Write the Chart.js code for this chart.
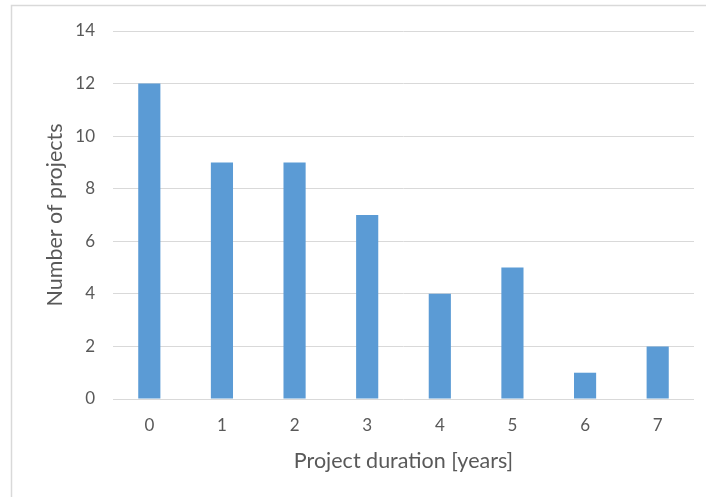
<!DOCTYPE html>
<html>
<head>
<meta charset="utf-8">
<script src="https://cdn.jsdelivr.net/npm/chart.js@4"></script>
<style>
  html, body { margin: 0; padding: 0; background: #fff; }
  #wrap { width: 706px; height: 497px; position: relative; }
</style>
</head>
<body>
<div id="wrap"><canvas id="chart" width="706" height="497"></canvas></div>
<script>
// Number of projects per project duration (years)
const durations = ['0', '1', '2', '3', '4', '5', '6', '7'];
const projectCounts = [12, 9, 9, 7, 4, 5, 1, 2];
const yTicks = [0, 2, 4, 6, 8, 10, 12, 14];

const TEXT = '#595959';
const GRID = '#d9d9d9';
const FONT = 'Lato, "Open Sans", sans-serif';

// light frame along the top and left edges, like the cropped Excel chart
const framePlugin = {
    id: 'frame',
    beforeDraw(chart) {
        const ctx = chart.ctx;
        ctx.save();
        ctx.strokeStyle = GRID;
        ctx.lineWidth = 1.5;
        ctx.beginPath();
        ctx.moveTo(11.5, chart.height);
        ctx.lineTo(11.5, 5.5);
        ctx.lineTo(chart.width, 5.5);
        ctx.stroke();
        ctx.restore();
    },
};

new Chart(document.getElementById('chart'), {
    type: 'bar',
    data: {
        labels: durations,
        datasets: [{
            data: projectCounts,
            backgroundColor: '#5b9bd5',
            borderWidth: 0,
            barPercentage: 0.305,
            categoryPercentage: 1,
        }],
    },
    options: {
        responsive: false,
        animation: false,
        layout: { padding: { top: 31, right: 12, left: 12, bottom: 0 } },
        plugins: { legend: { display: false }, tooltip: { enabled: false } },
        scales: {
            x: {
                grid: { display: false, drawTicks: false },
                border: { display: false },
                ticks: { color: TEXT, font: { family: FONT, size: 17 }, padding: 16 },
                title: {
                    display: true,
                    text: 'Project duration [years]',
                    color: TEXT,
                    font: { family: FONT, size: 21.5 },
                    padding: { top: 4, bottom: 23 },
                },
                afterFit: s => { s.height = 98; },
            },
            y: {
                min: 0,
                max: 14,
                afterBuildTicks: s => { s.ticks = yTicks.map(v => ({ value: v })); },
                grid: { color: GRID, lineWidth: 1, drawTicks: false },
                border: { display: false },
                ticks: { color: TEXT, font: { family: FONT, size: 17 }, padding: 18 },
                title: {
                    display: true,
                    text: 'Number of projects',
                    color: TEXT,
                    font: { family: FONT, size: 21.5 },
                    padding: { top: 30, bottom: 0 },
                },
                afterFit: s => { s.width = 101; },
            },
        },
    },
    plugins: [framePlugin],
});
</script>
</body>
</html>
